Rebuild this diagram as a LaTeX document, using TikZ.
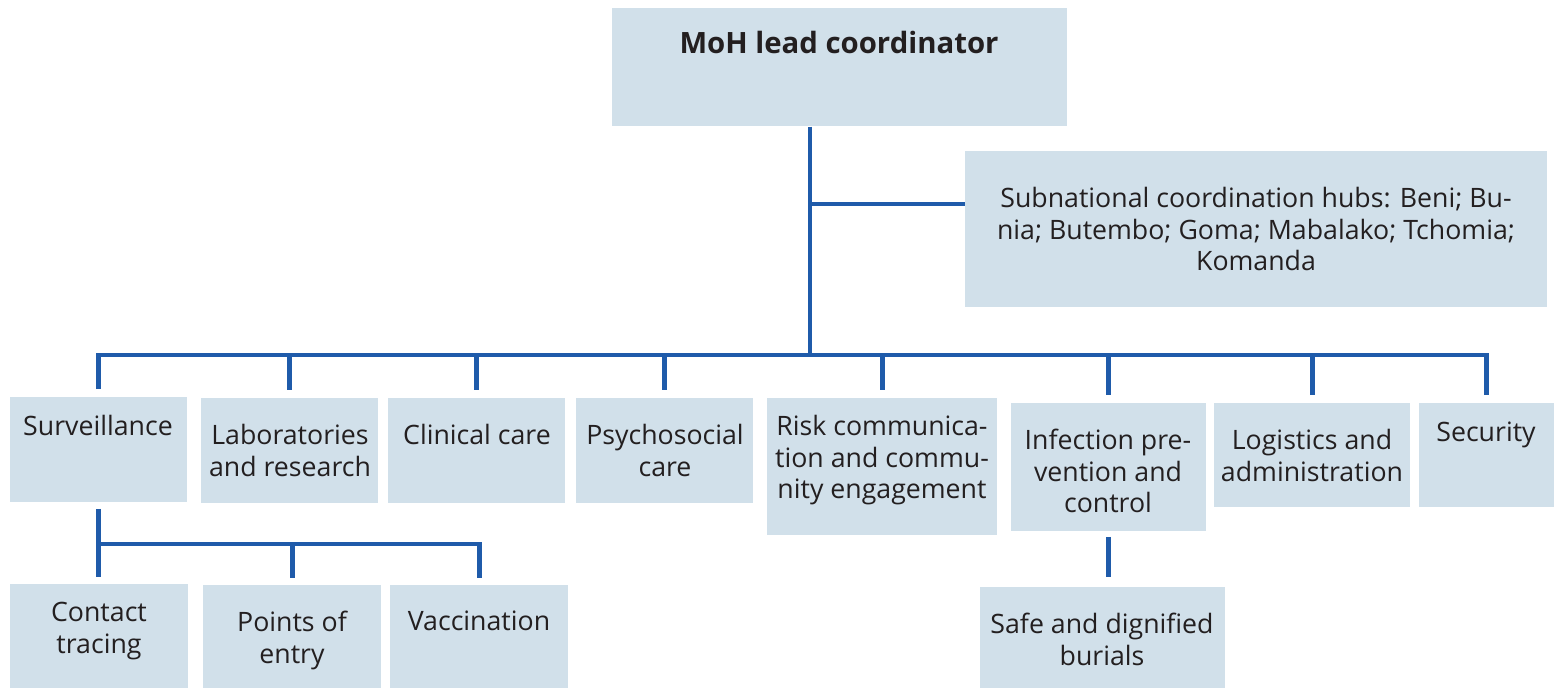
\documentclass[tikz,border=0pt]{standalone}
\usepackage{fontspec}
\setmainfont{Open Sans}
\usepackage{xcolor}
\usepackage{tikz}
\usetikzlibrary{calc}
\definecolor{boxfill}{HTML}{D1E0EA}
\definecolor{linkblue}{HTML}{1F5BAA}
\definecolor{ink}{HTML}{231F20}

\begin{document}
\begin{tikzpicture}[x=0.02cm, y=-0.02cm,
    box/.style={fill=boxfill, inner sep=0pt, anchor=north west},
    lbl/.style={anchor=north, inner sep=0pt, align=center, text=ink,
        font=\fontsize{15.2}{17.9}\selectfont},
    link/.style={draw=linkblue, line width=2.8pt}]
        \useasboundingbox (0,0) rectangle (1554,688);

        %BOXES
        \node[box, minimum width=9.10cm, minimum height=2.36cm] (moh) at (612,8) {};
        \node[box, minimum width=11.64cm, minimum height=3.12cm] (hubs) at (965,151) {};
        \node[box, minimum width=3.54cm, minimum height=2.10cm] (surv) at (10,397) {};
        \node[box, minimum width=3.54cm, minimum height=2.10cm] (labs) at (201,398) {};
        \node[box, minimum width=3.54cm, minimum height=2.10cm] (clin) at (388,398) {};
        \node[box, minimum width=3.54cm, minimum height=2.10cm] (psych) at (576,398) {};
        \node[box, minimum width=4.60cm, minimum height=2.74cm] (risk) at (767,398) {};
        \node[box, minimum width=3.90cm, minimum height=2.56cm] (ipc) at (1011,403) {};
        \node[box, minimum width=3.92cm, minimum height=2.08cm] (logs) at (1214,403) {};
        \node[box, minimum width=2.70cm, minimum height=2.08cm] (secu) at (1419,403) {};
        \node[box, minimum width=3.56cm, minimum height=2.08cm] (trace) at (10,584) {};
        \node[box, minimum width=3.56cm, minimum height=2.06cm] (poe) at (203,585) {};
        \node[box, minimum width=3.56cm, minimum height=2.06cm] (vacc) at (390,585) {};
        \node[box, minimum width=4.90cm, minimum height=2.02cm] (burial) at (980,587) {};

        %LABELS
        \node[lbl, font=\bfseries\fontsize{16.7}{19}\selectfont] (mohtxt) at (839,31) {MoH lead coordinator};
        \node[lbl] (hubstxt) at (1256,187) {Subnational coordination hubs: Beni; Bu-\\nia; Butembo; Goma; Mabalako; Tchomia;\\Komanda};
        \node[lbl] (survtxt) at (98,415) {Surveillance};
        \node[lbl] (labstxt) at (290,424) {Laboratories\\and research};
        \node[lbl] (clintxt) at (477,424) {Clinical care};
        \node[lbl] (psychtxt) at (665,424) {Psychosocial\\care};
        \node[lbl] (risktxt) at (882,415) {Risk communica-\\tion and commu-\\nity engagement};
        \node[lbl] (ipctxt) at (1108,429) {Infection pre-\\vention and\\control};
        \node[lbl] (logstxt) at (1312,429) {Logistics and\\administration};
        \node[lbl] (secutxt) at (1486,422) {Security};
        \node[lbl] (tracetxt) at (99,602) {Contact\\tracing};
        \node[lbl] (poetxt) at (292,611) {Points of\\entry};
        \node[lbl] (vacctxt) at (479,611) {Vaccination};
        \node[lbl] (burialtxt) at (1102,613) {Safe and dignified\\burials};

        %LINES
        \coordinate (bus) at (810,355);
        \coordinate (hubjoin) at (810,204);
        \coordinate (subbus) at (100,544);
        \draw[link] (moh.south -| bus) -- (bus);
        \draw[link] (hubjoin) -- (hubjoin -| hubs.west);
        \draw[link] ([yshift=4.5pt]surv.north) -- (surv.north |- bus) -- (secu.north |- bus) -- ([yshift=4.5pt]secu.north);
        \foreach \n in {labs,clin,psych,risk,ipc,logs}
            \draw[link] (\n.north |- bus) -- ([yshift=4.5pt]\n.north);

        %SUB BRANCHES
        \draw[link] ([yshift=-3.5pt]surv.south) -- ([yshift=4pt]surv.south |- trace.north);
        \draw[link] (surv.south |- subbus) -- (vacc.north |- subbus) -- ([yshift=4pt]vacc.north);
        \draw[link] (poe.north |- subbus) -- ([yshift=4pt]poe.north);
        \draw[link] ([yshift=-3pt]ipc.south) -- ([yshift=5.5pt]ipc.south |- burial.north);
    \end{tikzpicture}
\end{document}
